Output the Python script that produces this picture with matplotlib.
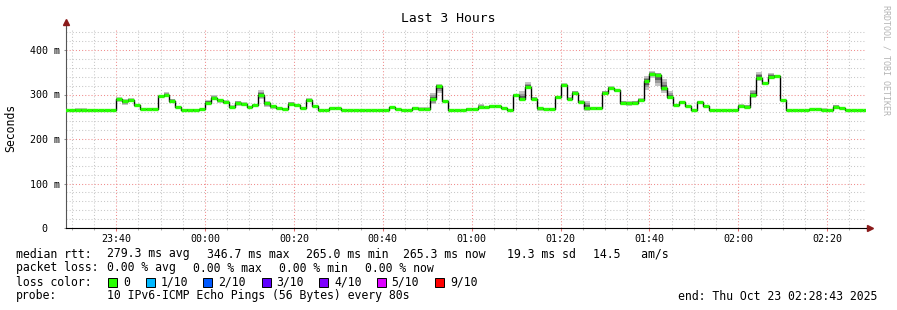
import numpy as np
import matplotlib
matplotlib.use("Agg")
import matplotlib.pyplot as plt
import matplotlib.dates as mdates
from matplotlib.ticker import MultipleLocator
from matplotlib.patches import Rectangle
from datetime import datetime, timedelta

TITLE = "Last 3 Hours"

W, H = 897, 310

# 80 s probe steps, first one starting 23:28:00
STEP_START = datetime(2025, 10, 22, 23, 28, 0)
STEP_SEC = 80
VIEW_START = datetime(2025, 10, 22, 23, 28, 43)
VIEW_END = datetime(2025, 10, 23, 2, 28, 43)

# median rtt per step (ms)
median_ms = [
    265, 265, 265, 265, 265, 265, 265, 265, 265,
    289, 285, 287, 276, 267, 267, 268, 296, 298, 286, 272, 266, 266, 266, 267,
    282, 293, 288, 284, 273, 281, 279, 273, 276, 298,
    280, 274, 269, 267, 279, 276, 269, 288, 274, 265, 265, 269, 269, 265,
    265, 265, 265, 265, 265, 265, 265,
    271, 268, 265, 265, 269, 268, 267, 289, 319, 285, 265, 265, 265,
    268, 267, 273, 271, 274, 274, 269, 265, 298, 291, 317, 291, 269, 267, 268,
    295, 322, 291, 304, 284, 270, 269, 269, 304, 315, 309, 282, 281, 282, 288,
    330, 347, 343, 314,
    294, 276, 283, 274, 265, 283, 274, 265, 265, 265, 265, 265,
    275, 273, 298, 338, 325, 339, 342, 288, 265, 265, 265, 265,
    267, 267, 266, 266, 273, 269, 265, 265, 265, 265,
]

# smoke: distance from median down to fastest ping and up to slowest (ms)
smoke_lo_ms = [
    0, 0, 0, 0, 0, 0, 0, 0, 0,
    6, 8, 4, 3, 1, 1, 1, 2, 3, 6, 2, 1, 1, 1, 1,
    3, 6, 6, 6, 3, 6, 5, 4, 2, 9,
    8, 6, 2, 2, 2, 3, 2, 3, 2, 0, 0, 2, 2, 0,
    0, 0, 0, 0, 0, 0, 0,
    2, 1, 0, 0, 1, 1, 1, 11, 15, 2, 0, 0, 0,
    1, 1, 4, 3, 3, 3, 2, 0, 2, 6, 2, 4, 5, 2, 1,
    2, 3, 3, 3, 4, 7, 4, 4, 4, 3, 3, 6, 6, 6, 4,
    19, 9, 24, 10,
    5, 2, 3, 2, 1, 3, 2, 0, 0, 0, 0, 0,
    4, 4, 5, 8, 4, 5, 2, 1, 0, 0, 0, 0,
    1, 1, 1, 1, 3, 2, 0, 0, 0, 0,
]
smoke_hi_ms = [
    0, 0, 5, 5, 0, 3, 0, 0, 0,
    5, 4, 5, 3, 1, 1, 1, 2, 8, 4, 2, 1, 1, 1, 1,
    6, 5, 3, 3, 3, 5, 4, 2, 2, 12,
    5, 3, 2, 2, 5, 3, 2, 4, 2, 0, 0, 2, 2, 3,
    0, 0, 0, 0, 0, 0, 0,
    2, 1, 0, 0, 3, 3, 4, 15, 4, 2, 0, 0, 0,
    1, 3, 5, 2, 3, 3, 2, 0, 3, 16, 10, 4, 2, 2, 1,
    2, 3, 3, 4, 3, 15, 2, 2, 4, 3, 3, 4, 4, 4, 4,
    11, 6, 6, 20,
    13, 2, 3, 2, 1, 3, 2, 0, 0, 0, 0, 0,
    3, 4, 13, 13, 3, 10, 2, 1, 0, 0, 0, 0,
    1, 1, 3, 1, 4, 2, 0, 0, 0, 0,
]

y_ticks = [0, 100, 200, 300, 400]
y_tick_labels = ["0  ", "100 m", "200 m", "300 m", "400 m"]

loss_labels = ["0", "1/10", "2/10", "3/10", "4/10", "5/10", "9/10"]
loss_colors = ["#26ff00", "#00b8ff", "#0059ff", "#5e00ff", "#7e00ff", "#dd00ff", "#ff0000"]

rtt_stats = ["279.3 ms avg", "346.7 ms max", "265.0 ms min", "265.3 ms now",
             "19.3 ms sd", "14.5   am/s"]
loss_stats = ["0.00 % avg", "0.00 % max", "0.00 % min", "0.00 % now"]
probe_text = "10 IPv6-ICMP Echo Pings (56 Bytes) every 80s"
end_text = "end: Thu Oct 23 02:28:43 2025"


def px(x, y):
    # pixel position (from top-left) -> figure fraction
    return x / W, 1 - y / H


def plotter():
    plt.rcParams["font.family"] = "DejaVu Sans Mono"
    fig = plt.figure(figsize=(W / 100, H / 100), dpi=100, facecolor="white")
    ax = fig.add_axes([66 / W, (H - 228) / H, 800 / W, 200 / H])

    edges = mdates.date2num([STEP_START + timedelta(seconds=STEP_SEC * k)
                             for k in range(len(median_ms) + 1)])
    med = np.array(median_ms, dtype=float)
    lo = np.array(smoke_lo_ms, dtype=float)
    hi = np.array(smoke_hi_ms, dtype=float)

    def ext(a):
        return np.append(a, a[-1])

    # smoke, outer to inner
    for frac, col in [(1.0, "#c4c4c4"), (0.7, "#999999"), (0.4, "#5e5e5e")]:
        ax.fill_between(edges, ext(med - frac * lo), ext(med + frac * hi),
                        step="post", color=col, lw=0, zorder=2)

    ax.step(edges, ext(med), where="post", color="black", lw=1.0, zorder=3)
    ax.hlines(med, edges[:-1], edges[1:], color=loss_colors[0], lw=2.4, zorder=4)

    ax.set_xlim(mdates.date2num(VIEW_START), mdates.date2num(VIEW_END))
    ax.set_ylim(0, 200 / 0.445)

    ax.xaxis.set_major_locator(mdates.MinuteLocator(byminute=[0, 20, 40]))
    ax.xaxis.set_minor_locator(mdates.MinuteLocator(byminute=range(0, 60, 5)))
    ax.xaxis.set_major_formatter(mdates.DateFormatter("%H:%M"))
    ax.set_yticks(y_ticks)
    ax.set_yticklabels(y_tick_labels)
    ax.yaxis.set_minor_locator(MultipleLocator(20))

    ax.set_axisbelow(True)
    ax.grid(which="minor", color="#c8c8c8", linestyle=(0, (1, 2)), lw=0.75)
    ax.grid(which="major", color="#f08c8c", linestyle=(0, (1, 2)), lw=0.75)

    ax.tick_params(axis="x", which="major", direction="out", length=2.5,
                   width=0.75, color="#e07070", labelsize=7.2, pad=1.5)
    ax.tick_params(axis="x", which="minor", direction="out", length=1.5,
                   width=0.75, color="#b0b0b0")
    ax.tick_params(axis="y", which="major", direction="out", length=1.5,
                   width=0.75, color="#909090", labelsize=7.2, pad=3)
    ax.tick_params(axis="y", which="minor", length=0)

    for s in ["top", "right"]:
        ax.spines[s].set_visible(False)
    ax.spines["left"].set_color("#555555")
    ax.spines["bottom"].set_color("black")
    ax.spines["left"].set_linewidth(0.8)
    ax.spines["bottom"].set_linewidth(0.8)

    # axis extensions with arrow heads
    ax.plot([0, 0], [1, 1.02], transform=ax.transAxes, color="#555555",
            lw=0.8, clip_on=False)
    ax.plot([1, 1.003], [0, 0], transform=ax.transAxes, color="black",
            lw=0.8, clip_on=False)
    ax.plot([0], [1.03], marker="^", ms=4.5, color="#8b1a1a", mec="#8b1a1a",
            transform=ax.transAxes, clip_on=False)
    ax.plot([1.005], [0], marker=">", ms=4.5, color="#8b1a1a", mec="#8b1a1a",
            transform=ax.transAxes, clip_on=False)

    fig.text(*px(448, 19), TITLE, ha="center", va="center", fontsize=9.4)
    fig.text(*px(11, 128), "Seconds", rotation=90, ha="center", va="center",
             fontsize=8.3)
    fig.text(*px(886, 5), "RRDTOOL / TOBI OETIKER", rotation=270, ha="center",
             va="top", fontsize=6, color="#b4b4b4")

    fs = 8.3
    fig.text(*px(16, 254), "median rtt:", va="center", fontsize=fs)
    for x, s in zip([107, 207, 306.5, 403, 507, 593], rtt_stats):
        fig.text(*px(x, 254), s, va="center", fontsize=fs)

    fig.text(*px(16, 268), "packet loss:", va="center", fontsize=fs)
    for x, s in zip([107, 193.3, 279.3, 365], loss_stats):
        fig.text(*px(x, 268), s, va="center", fontsize=fs)

    fig.text(*px(16, 282), "loss color:", va="center", fontsize=fs)
    box_x = [108, 145.7, 203, 261.7, 319.3, 376.7, 435]
    for x, lab, col in zip(box_x, loss_labels, loss_colors):
        x0, y0 = px(x, 287)
        fig.patches.append(Rectangle((x0, y0), 9 / W, 9 / H, transform=fig.transFigure,
                                     facecolor=col, edgecolor="black", lw=0.7))
        fig.text(*px(x + 15, 282), lab, va="center", fontsize=fs)

    fig.text(*px(16, 296), "probe:", va="center", fontsize=fs)
    fig.text(*px(107, 296), probe_text, va="center", fontsize=fs)
    fig.text(*px(678, 296), end_text, va="center", fontsize=fs)

    return fig


if __name__ == "__main__":
    fig = plotter()
    fig.savefig("out.png", dpi=100, facecolor="white")
